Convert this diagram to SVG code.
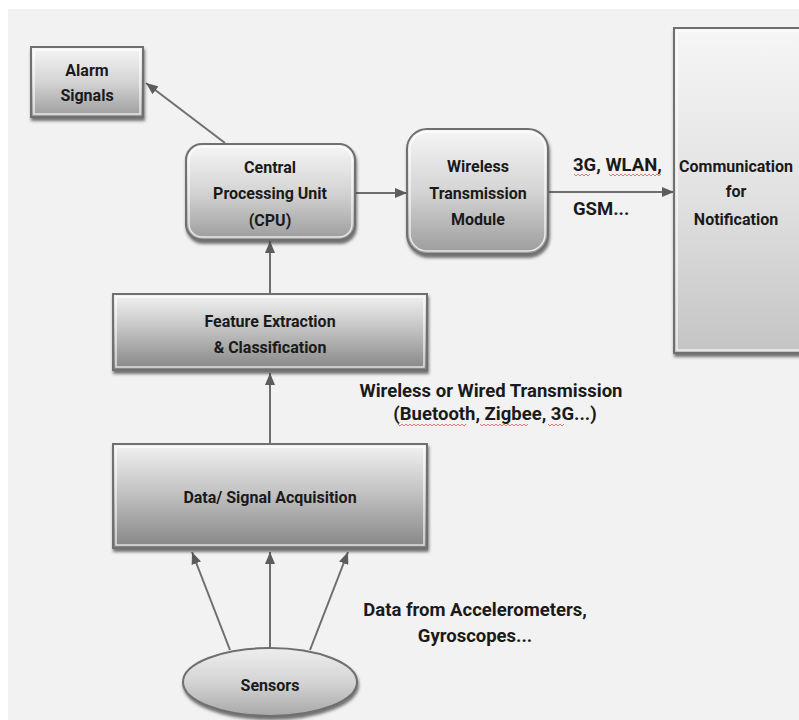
<svg xmlns="http://www.w3.org/2000/svg" width="799" height="720" viewBox="0 0 799 720">
  <defs>
    <linearGradient id="gDark" x1="0" y1="0" x2="0" y2="1">
      <stop offset="0" stop-color="#f2f2f2"/>
      <stop offset="0.45" stop-color="#c4c4c4"/>
      <stop offset="1" stop-color="#858585"/>
    </linearGradient>
    <linearGradient id="gMid" x1="0" y1="0" x2="0" y2="1">
      <stop offset="0" stop-color="#f6f6f6"/>
      <stop offset="0.5" stop-color="#d4d4d4"/>
      <stop offset="1" stop-color="#9c9c9c"/>
    </linearGradient>
    <linearGradient id="gLight" x1="0" y1="0" x2="0" y2="1">
      <stop offset="0" stop-color="#f6f6f6"/>
      <stop offset="0.5" stop-color="#e2e2e2"/>
      <stop offset="1" stop-color="#c4c4c4"/>
    </linearGradient>
    <linearGradient id="gEll" x1="0" y1="0" x2="0" y2="1">
      <stop offset="0" stop-color="#eeeeee"/>
      <stop offset="0.5" stop-color="#d4d4d4"/>
      <stop offset="1" stop-color="#a8a8a8"/>
    </linearGradient>
    <filter id="sh" x="-10%" y="-10%" width="125%" height="130%">
      <feDropShadow dx="1" dy="3" stdDeviation="1.5" flood-color="#3a3a3a" flood-opacity="0.7"/>
    </filter>
    <marker id="ah" viewBox="0 0 12 10" refX="12" refY="5" markerWidth="12" markerHeight="10" markerUnits="userSpaceOnUse" orient="auto">
      <path d="M0,0 L12,5 L0,10 z" fill="#5c5c5c"/>
    </marker>
    <style>
      .box { stroke: #6f6f6f; stroke-width: 2; }
      .inner { fill: none; stroke: #ffffff; stroke-opacity: 0.75; stroke-width: 1.5; }
      .t { font-family: Roboto, "Open Sans", "Liberation Sans", sans-serif; font-weight: bold; font-size: 16px; fill: #1a1a1a; text-anchor: middle; }
      .lbl { font-family: Roboto, "Open Sans", "Liberation Sans", sans-serif; font-weight: bold; font-size: 18.5px; fill: #1a1a1a; }
      .edge { fill: none; stroke: #6e6e6e; stroke-width: 2; marker-end: url(#ah); }
      .sq { fill: none; stroke: #d24a4a; stroke-width: 1; stroke-opacity: 0.7; }
    </style>
  </defs>

  <rect x="0" y="0" width="799" height="720" fill="#ffffff"/>
  <rect x="8" y="9" width="791" height="711" fill="#f2f2f2"/>

  <g id="connectors">
    <line class="edge" x1="225" y1="143" x2="146" y2="83"/>
    <line class="edge" x1="270" y1="294" x2="270" y2="241"/>
    <line class="edge" x1="356" y1="193" x2="407" y2="193"/>
    <line class="edge" x1="549" y1="192" x2="674" y2="192"/>
    <line class="edge" x1="270" y1="444" x2="270" y2="373"/>
    <line class="edge" x1="230" y1="650" x2="192" y2="552"/>
    <line class="edge" x1="270" y1="648" x2="270" y2="552"/>
    <line class="edge" x1="310" y1="650" x2="348" y2="552"/>
  </g>

  <g id="alarm">
    <rect class="box" x="31" y="47" width="112" height="70" fill="url(#gMid)" filter="url(#sh)"/>
    <rect class="inner" x="34" y="50" width="106" height="64"/>
    <text class="t" x="87" y="76">Alarm</text>
    <text class="t" x="87" y="101">Signals</text>
  </g>

  <g id="cpu">
    <rect class="box" x="186" y="144" width="169" height="96" rx="16" fill="url(#gMid)" filter="url(#sh)"/>
    <rect class="inner" x="189" y="147" width="163" height="90" rx="13"/>
    <text class="t" x="270" y="173">Central</text>
    <text class="t" x="270" y="199">Processing Unit</text>
    <text class="t" x="270" y="226">(CPU)</text>
  </g>

  <g id="wireless">
    <rect class="box" x="407" y="129" width="141" height="125" rx="20" fill="url(#gMid)" filter="url(#sh)"/>
    <rect class="inner" x="410" y="132" width="135" height="119" rx="17"/>
    <text class="t" x="478" y="172">Wireless</text>
    <text class="t" x="478" y="199">Transmission</text>
    <text class="t" x="478" y="225">Module</text>
  </g>

  <g id="communication">
    <rect class="box" x="674" y="28" width="140" height="325" fill="url(#gLight)" filter="url(#sh)"/>
    <rect class="inner" x="677" y="31" width="134" height="319"/>
    <text class="t" x="736" y="172">Communication</text>
    <text class="t" x="736" y="197">for</text>
    <text class="t" x="736" y="225">Notification</text>
  </g>

  <g id="feature">
    <rect class="box" x="113" y="294" width="314" height="76" fill="url(#gDark)" filter="url(#sh)"/>
    <rect class="inner" x="116" y="297" width="308" height="70"/>
    <text class="t" x="270" y="327">Feature Extraction</text>
    <text class="t" x="270" y="353">&amp; Classification</text>
  </g>

  <g id="acquisition">
    <rect class="box" x="113" y="444" width="314" height="104" fill="url(#gDark)" filter="url(#sh)"/>
    <rect class="inner" x="116" y="447" width="308" height="98"/>
    <text class="t" x="270" y="503">Data/ Signal Acquisition</text>
  </g>

  <g id="sensors">
    <ellipse class="box" cx="270" cy="682" rx="87" ry="34" fill="url(#gEll)" filter="url(#sh)"/>
    <text class="t" x="270" y="691">Sensors</text>
  </g>

  <g id="labels">
    <text class="lbl" x="573" y="171">3G, WLAN,</text>
    <text class="lbl" x="573" y="215">GSM...</text>
    <text class="lbl" x="491" y="397" text-anchor="middle">Wireless or Wired Transmission</text>
    <text class="lbl" x="495" y="420" text-anchor="middle">(Buetooth, Zigbee, 3G...)</text>
    <text class="lbl" x="475" y="616" text-anchor="middle">Data from Accelerometers,</text>
    <text class="lbl" x="475" y="642" text-anchor="middle">Gyroscopes...</text>
  </g>

  <g id="spellcheck">
    <path class="sq" d="M574,174 l2,2 l2,-2 l2,2 l2,-2 l2,2 l2,-2 l2,2 l2,-2"/>
    <path class="sq" d="M609,174 l2,2 l2,-2 l2,2 l2,-2 l2,2 l2,-2 l2,2 l2,-2 l2,2 l2,-2 l2,2 l2,-2 l2,2 l2,-2 l2,2 l2,-2 l2,2 l2,-2 l2,2 l2,-2 l2,2 l2,-2 l2,2 l2,-2 l2,2 l2,-2"/>
    <path class="sq" d="M398,424 l2,2 l2,-2 l2,2 l2,-2 l2,2 l2,-2 l2,2 l2,-2 l2,2 l2,-2 l2,2 l2,-2 l2,2 l2,-2 l2,2 l2,-2 l2,2 l2,-2 l2,2 l2,-2 l2,2 l2,-2 l2,2 l2,-2 l2,2 l2,-2 l2,2 l2,-2 l2,2 l2,-2 l2,2 l2,-2 l2,2 l2,-2"/>
    <path class="sq" d="M480,424 l2,2 l2,-2 l2,2 l2,-2 l2,2 l2,-2 l2,2 l2,-2 l2,2 l2,-2 l2,2 l2,-2 l2,2 l2,-2 l2,2 l2,-2 l2,2 l2,-2 l2,2 l2,-2 l2,2 l2,-2 l2,2 l2,-2"/>
    <path class="sq" d="M548,424 l2,2 l2,-2 l2,2 l2,-2 l2,2 l2,-2 l2,2 l2,-2"/>
  </g>
</svg>
